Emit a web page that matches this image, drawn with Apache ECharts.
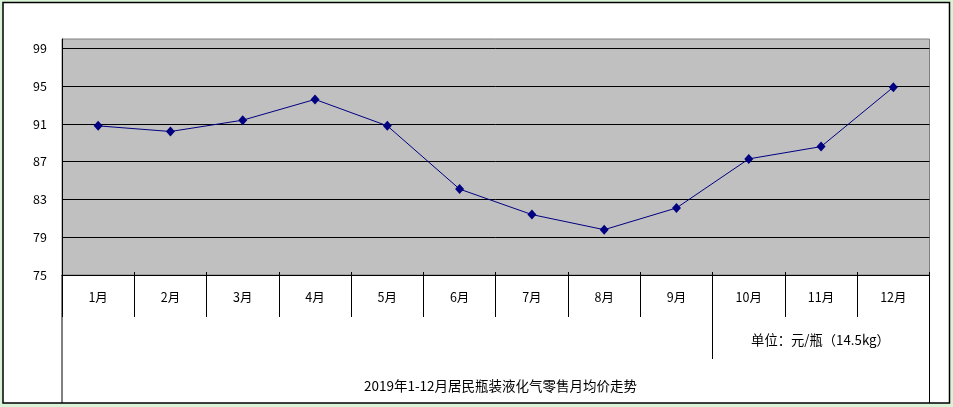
<!DOCTYPE html>
<html>
<head>
<meta charset="utf-8">
<script src="https://cdn.jsdelivr.net/npm/echarts@6/dist/echarts.min.js"></script>
<style>
html,body{margin:0;padding:0;background:#d8f3d6;}
#c{width:953px;height:407px;}
</style>
</head>
<body>
<div id="c"></div>
<script>
var months = ['1月','2月','3月','4月','5月','6月','7月','8月','9月','10月','11月','12月'];
var prices = [90.8, 90.2, 91.4, 93.6, 90.8, 84.1, 81.4, 79.8, 82.1, 87.3, 88.6, 94.9];
var yTicks = {min: 75, max: 100, interval: 4};
var titleText = '2019年1-12月居民瓶装液化气零售月均价走势';
var unitText = '单位：元/瓶（14.5kg）';

var FONT = '"Noto Sans CJK SC", "DejaVu Sans", sans-serif';
var chart = echarts.init(document.getElementById('c'), null, {renderer: 'canvas'});
chart.setOption({
  animation: false,
  backgroundColor: 'transparent',
  title: {
    text: titleText,
    left: 495.5, top: 374, textAlign: 'center',
    textStyle: {fontSize: 13.5, fontWeight: 'normal', color: '#000', fontFamily: FONT}
  },
  grid: {
    left: 62, top: 39, right: 23.5, bottom: 132,
    show: true, backgroundColor: '#c0c0c0', borderColor: '#808080', borderWidth: 1
  },
  xAxis: [{
    type: 'category', data: months, boundaryGap: true, position: 'bottom',
    axisLine: {show: true, lineStyle: {color: '#000', width: 1}},
    axisTick: {show: true, interval: 0, length: 42, lineStyle: {color: '#000', width: 1}},
    axisLabel: {interval: 0, margin: 16, fontSize: 12.5, color: '#000', fontFamily: FONT},
    splitLine: {show: false}
  }, {
    type: 'category', data: months, boundaryGap: true, position: 'bottom',
    axisLine: {show: false},
    axisTick: {show: true, inside: true, interval: 0, length: 3, lineStyle: {color: '#000', width: 1}},
    axisLabel: {show: false},
    splitLine: {show: false}
  }],
  yAxis: {
    type: 'value', min: yTicks.min, max: yTicks.max, interval: yTicks.interval,
    axisLine: {show: true, lineStyle: {color: '#000', width: 1}},
    axisTick: {show: false},
    axisLabel: {showMaxLabel: false, margin: 15, fontSize: 12.5, color: '#000', fontFamily: FONT},
    splitLine: {show: true, showMaxLine: false, lineStyle: {color: '#000', width: 1}}
  },
  graphic: [
    {type: 'rect', z: -10, silent: true, shape: {x: 3, y: 2.5, width: 946.5, height: 400.5},
     style: {fill: '#fff', stroke: '#000', lineWidth: 1.5}},
    {type: 'line', silent: true, shape: {x1: 62, y1: 275, x2: 62, y2: 403}, style: {stroke: '#000', lineWidth: 1}},
    {type: 'line', silent: true, shape: {x1: 929.5, y1: 275, x2: 929.5, y2: 403}, style: {stroke: '#000', lineWidth: 1}},
    {type: 'line', silent: true, shape: {x1: 712.5, y1: 275, x2: 712.5, y2: 359}, style: {stroke: '#000', lineWidth: 1}},
    {type: 'text', silent: true, x: 820.5, y: 340,
     style: {text: unitText, textAlign: 'center', textVerticalAlign: 'middle', fontSize: 13.3, fill: '#000', fontFamily: FONT}}
  ],
  series: [{
    type: 'line', data: prices, xAxisIndex: 0,
    symbol: 'diamond', symbolSize: [9, 10],
    lineStyle: {color: '#000080', width: 1},
    itemStyle: {color: '#000080'}
  }]
});
</script>
</body>
</html>
